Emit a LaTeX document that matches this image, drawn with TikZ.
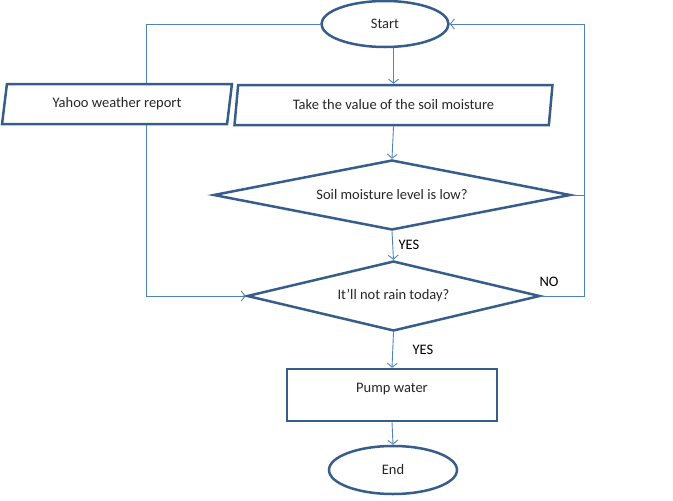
\documentclass[tikz,border=0pt]{standalone}
\usepackage{fontspec}
\setmainfont{Carlito}
\usetikzlibrary{shapes.geometric,arrows.meta}
\definecolor{edgeblue}{RGB}{56,93,138}
\definecolor{wireblue}{RGB}{79,129,189}
\tikzset{
	block/.style={draw=edgeblue, line width=2.5pt, inner sep=0pt, font=\fontsize{14.5}{16}\selectfont, text=black!85},
	io/.style={block, trapezium, trapezium left angle=77, trapezium right angle=103, trapezium stretches=true, minimum height=40pt},
	decide/.style={block, diamond, aspect=5},
	wire/.style={draw=wireblue, line width=0.9pt},
	arrow/.style={wire, -{Straight Barb[length=4pt,width=10pt]}},
	lbl/.style={font=\fontsize{14.5}{16}\selectfont, text=black}
}
\begin{document}
\begin{tikzpicture}[x=1pt, y=1pt]
		\useasboundingbox (0,0) rectangle (673,-501);

		\node[block, ellipse, minimum width=127pt, minimum height=46pt] at (385, -24) (start) {Start};
		\node[io, minimum width=230pt] at (117, -104) (yahoo) {Yahoo weather report};
		\node[io, minimum width=319pt] at (393.5, -105) (soil) {Take the value of the soil moisture};
		\node[decide, minimum width=357pt, minimum height=70pt] at (392, -195) (low) {Soil moisture level is low?};
		\node[decide, minimum width=293pt, minimum height=70pt] at (393.5, -296) (rain) {It’ll not rain today?};
		\node[block, rectangle, minimum width=210pt, minimum height=52pt, text height=13pt, text depth=19pt] at (392, -395) (pump) {Pump water};
		\node[block, ellipse, minimum width=128pt, minimum height=48pt] at (393, -470) (end) {End};

		\node[lbl] at (409, -245) (yes1) {YES};
		\node[lbl] at (549, -282) (no) {NO};
		\node[lbl] at (423, -350) (yes2) {YES};

		\coordinate (left) at (146, -24);
		\coordinate (back) at (584, -296);

		\draw[wire] (start.west) -- (left) -- (left |- yahoo.north);
		\draw[arrow] (left |- yahoo.south) |- (rain.west);
		\draw[arrow] (start.south -| soil.north) -- (soil.north);
		\draw[arrow] (soil.south) -- (low.north);
		\draw[arrow] (low.south) -- (rain.north);
		\draw[arrow] (rain.east) -- (back) |- (start.east);
		\draw[wire] (low.east) -- (low.east -| back);
		\draw[arrow] (rain.south) -- (pump.north);
		\draw[arrow] (pump.south) -- (end.north);
	\end{tikzpicture}
\end{document}
